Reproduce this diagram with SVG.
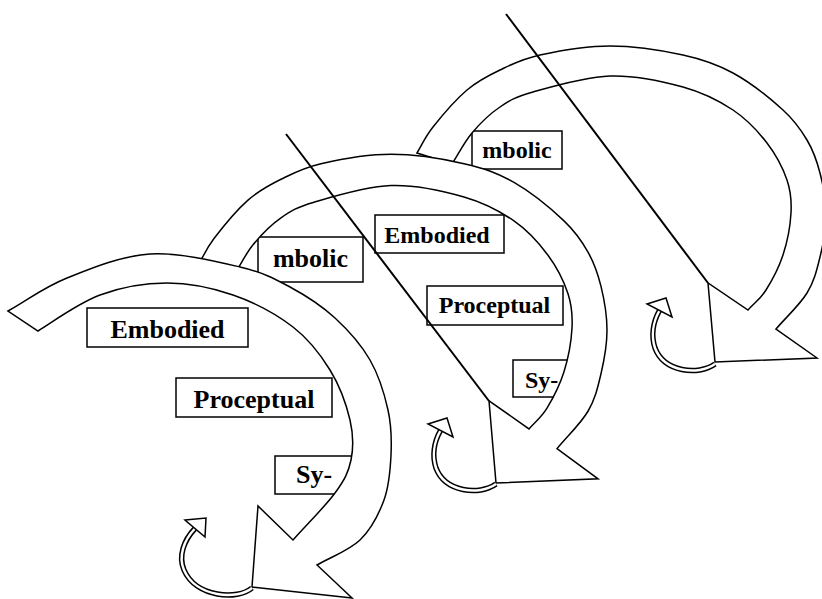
<svg xmlns="http://www.w3.org/2000/svg" xmlns:xlink="http://www.w3.org/1999/xlink" width="822" height="599" viewBox="0 0 822 599">
<style>
.band{fill:#fff;stroke:#000;stroke-width:1.5;stroke-linejoin:miter}
.box{fill:#fff;stroke:#000;stroke-width:1.5}
.t{font-family:"Liberation Serif","Times New Roman",serif;font-weight:bold;fill:#000}
.t26{font-size:26px}
.t24{font-size:24px}
.div{stroke:#000;stroke-width:2;fill:none}
.curlo{fill:none;stroke:#000;stroke-width:5.5}
.curli{fill:none;stroke:#fff;stroke-width:2.5}
.head{fill:#fff;stroke:#000;stroke-width:1.5;stroke-linejoin:miter}
</style>
<defs>
<path id="bandB" class="band" d="M 452,164 C 458.7,153.7 464,142.5 472,133 C 480,123.5 489.8,113.8 500,107 C 510.2,100.2 514.7,97.2 533,92 C 551.3,86.8 585,76.8 610,76 C 635,75.2 662.5,81.3 683,87 C 703.5,92.7 719,100.7 733,110 C 747,119.3 758,131.3 767,143 C 776,154.7 783,168.3 787,180 C 791,191.7 791.7,200.5 791,213 C 790.3,225.5 787.2,242.2 783,255 C 778.8,267.8 771.8,280.8 766,290 C 760.2,299.2 754,303.3 748,310 L 708,283 L 715,362 L 817,358 L 776,329 C 786.3,317 799.7,305 807,293 C 814.3,281 816.8,270 820,257 C 823.2,244 826,229 826,215 C 826,201 823.2,185.5 820,173 C 816.8,160.5 813.2,150.5 807,140 C 800.8,129.5 795.3,121.2 783,110 C 770.7,98.8 749.7,82.2 733,73 C 716.3,63.8 703.5,59.5 683,55 C 662.5,50.5 633.8,46 610,46 C 586.2,46 558.3,51 540,55 C 521.7,59 512.2,64.2 500,70 C 487.8,75.8 478.2,80.5 467,90 C 455.8,99.5 441.3,116.5 433,127 C 424.7,137.5 422.3,144.3 417,153 Z"/>
<g id="curl">
<path class="curlo" d="M 0,2 C -17,14 -51,10 -60,-14 C -64,-26 -62,-40 -55.5,-51.5"/>
<path class="curli" d="M 0,2 C -17,14 -51,10 -60,-14 C -64,-26 -62,-40 -55.5,-51.5"/>
<polygon class="head" points="-68,-58 -49,-64 -43,-45"/>
</g>
</defs>

<g id="cycle3">
<g id="c3-mbolic"><rect class="box" x="472" y="131" width="90" height="38"/><text class="t t24" x="517" y="158" text-anchor="middle">mbolic</text></g>
<use id="c3-arrow" href="#bandB" xlink:href="#bandB"/>
</g>

<g id="cycle2">
<g id="c2-mbolic"><rect class="box" x="258" y="237" width="105" height="45"/><text class="t t26" x="310.5" y="267" text-anchor="middle">mbolic</text></g>
<g id="c2-embodied"><rect class="box" x="375" y="215" width="129" height="38"/><text class="t t24" x="437" y="243" text-anchor="middle">Embodied</text></g>
<g id="c2-proceptual"><rect class="box" x="427" y="286" width="136" height="39"/><text class="t t24" x="494.5" y="313" text-anchor="middle">Proceptual</text></g>
<g id="c2-sy"><rect class="box" x="513" y="360" width="72" height="37"/><text class="t t24" x="525" y="388">Sy-</text></g>
<use id="c2-arrow" href="#bandB" xlink:href="#bandB" transform="matrix(1 0 0 1.04 -219 106.5)"/>
</g>

<g id="cycle1">
<g id="c1-embodied"><rect class="box" x="87" y="308" width="161" height="39"/><text class="t t26" x="167.5" y="338" text-anchor="middle">Embodied</text></g>
<g id="c1-proceptual"><rect class="box" x="176" y="378" width="156" height="39"/><text class="t t26" x="254" y="408" text-anchor="middle">Proceptual</text></g>
<g id="c1-sy"><rect class="box" x="275" y="456" width="85" height="38"/><text class="t t26" x="296" y="483">Sy-</text></g>
<path id="c1-arrow" class="band" d="M 38,331 C 57,319 78.5,303 100,295 C 121.5,287 144.8,283 167,283 C 189.2,283 212,287.7 233,295 C 254,302.3 276.8,314.5 293,327 C 309.2,339.5 320.5,354.5 330,370 C 339.5,385.5 346.5,405 350,420 C 353.5,435 353.5,447.8 351,460 C 348.5,472.2 344.7,479.7 335,493 C 325.3,506.3 307,524.3 293,540 L 258,506 L 252,587 L 352,598 L 317,565 C 331.3,556.7 348.8,550.8 360,540 C 371.2,529.2 378.8,514.2 384,500 C 389.2,485.8 390.3,470 391,455 C 391.7,440 391.5,425.8 388,410 C 384.5,394.2 378.8,375.3 370,360 C 361.2,344.7 348.3,330.2 335,318 C 321.7,305.8 305.8,295.5 290,287 C 274.2,278.5 263.3,272.5 240,267 C 216.7,261.5 178.8,252.2 150,254 C 121.2,255.8 90.7,268.5 67,278 C 43.3,287.5 27.7,300 8,311 Z"/>
</g>

<g id="connectors">
<line class="div" x1="506" y1="14" x2="708" y2="283"/>
<line class="div" x1="286" y1="134" x2="489" y2="401"/>
<use href="#curl" xlink:href="#curl" transform="translate(715,362)"/>
<use href="#curl" xlink:href="#curl" transform="translate(496,482)"/>
<g id="curl1">
<path class="curlo" d="M 252,588 C 238,600 196,598 184,570 C 178,556 184,540 195,528.5"/>
<path class="curli" d="M 252,588 C 238,600 196,598 184,570 C 178,556 184,540 195,528.5"/>
<polygon class="head" points="185,520 206,518 205,537"/>
</g>
</g>
</svg>
